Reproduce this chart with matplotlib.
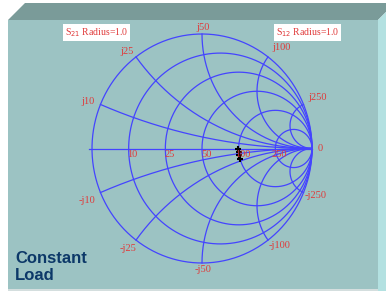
import numpy as np
import matplotlib
matplotlib.use('Agg')
import matplotlib.pyplot as plt
from matplotlib.patches import Polygon

# Smith chart grid values (ohms, Z0 = 50)
z0 = 50.0
resistances = [10, 25, 50, 100, 250]
reactances = [10, 25, 50, 100, 250]
res_labels = ['10', '25', '50', '100', '250']
pos_x_labels = ['j10', 'j25', 'j50', 'j100', 'j250']
neg_x_labels = ['-j10', '-j25', '-j50', '-j100', '-j250']

# measured points (reflection coefficient, real / imag)
gamma_re = [0.33, 0.335, 0.34, 0.345]
gamma_im = [0.0, -0.03, -0.06, -0.09]

grid_col = '#4444ff'
lab_col = '#e03a3a'
# label offsets from arc end points, in pixels
pos_off = [(-13, 3), (-9, 5), (1, 7), (13, 9), (14, 7)]
neg_off = [(-13, -8), (-8, -8), (1, -7), (12, -5), (12, -3)]

fig = plt.figure(figsize=(3.86, 2.91), dpi=100)

# background box (pixel coordinates)
bg = fig.add_axes([0, 0, 1, 1])
bg.set_xlim(0, 386)
bg.set_ylim(291, 0)
bg.axis('off')
bg.add_patch(Polygon([(8, 20), (25, 3), (386, 3), (386, 12), (378, 20)],
                     closed=True, fc='#7a9b99', ec='none'))
bg.add_patch(Polygon([(378, 20), (386, 12), (386, 291), (378, 291)],
                     closed=True, fc='#b3e1e1', ec='none'))
bg.add_patch(Polygon([(8, 20), (378, 20), (378, 289), (8, 289)],
                     closed=True, fc='#9cc3c3', ec='none'))
bg.add_patch(Polygon([(8, 289), (378, 289), (378, 291), (8, 291)],
                     closed=True, fc='#d4dede', ec='none'))

bg.text(96.5, 32.5, 'S$_{21}$ Radius=1.0', color=lab_col, fontsize=7,
        family='Liberation Serif', ha='center', va='center',
        bbox=dict(fc='white', ec='none', pad=1.2))
bg.text(307.5, 32.5, 'S$_{12}$ Radius=1.0', color=lab_col, fontsize=7,
        family='Liberation Serif', ha='center', va='center',
        bbox=dict(fc='white', ec='none', pad=1.2))
bg.text(15, 267, 'Constant\nLoad', color='#0c3868', fontsize=12,
        fontweight='bold', family='Liberation Sans', ha='left', va='center',
        linespacing=1.1)

# smith chart axes: gamma -> pixel  x = 202 + 110*g, y = 148.5 - 114.5*g
ax = fig.add_axes([0, 0, 1, 1])
ax.patch.set_alpha(0)
ax.set_xlim((0 - 202) / 110, (386 - 202) / 110)
ax.set_ylim((148.5 - 291) / 114.5, (148.5 - 0) / 114.5)
ax.axis('off')

t = np.linspace(0, 2 * np.pi, 400)
lw = 0.9

# outer circle and real axis
ax.plot(np.cos(t), np.sin(t), color=grid_col, lw=lw)
ax.plot([-1.03, 1], [0, 0], color=grid_col, lw=lw)

# constant resistance circles
for R, lab in zip(resistances, res_labels):
    r = R / z0
    c = r / (1 + r)
    rad = 1 / (1 + r)
    ax.plot(c + rad * np.cos(t), rad * np.sin(t), color=grid_col, lw=lw)
    ax.annotate(lab, ((r - 1) / (r + 1), 0), xytext=(4, -6),
                textcoords='offset pixels', color=lab_col, fontsize=7.5,
                family='Liberation Serif', ha='center', va='center')

# constant reactance arcs (clipped to unit circle)
for X, lp, ln, po, no in zip(reactances, pos_x_labels, neg_x_labels,
                             pos_off, neg_off):
    x = X / z0
    ex, ey = (x * x - 1) / (x * x + 1), 2 * x / (x * x + 1)
    a0 = np.arctan2(ey - 1 / x, ex - 1) % (2 * np.pi)
    a = np.linspace(a0, 1.5 * np.pi, 200)
    arc_x, arc_y = 1 + np.cos(a) / x, 1 / x + np.sin(a) / x
    ax.plot(arc_x, arc_y, color=grid_col, lw=lw)
    ax.plot(arc_x, -arc_y, color=grid_col, lw=lw)
    ax.annotate(lp, (ex, ey), xytext=po, textcoords='offset pixels',
                color=lab_col, fontsize=7.5, family='Liberation Serif',
                ha='center', va='center')
    ax.annotate(ln, (ex, -ey), xytext=no, textcoords='offset pixels',
                color=lab_col, fontsize=7.5, family='Liberation Serif',
                ha='center', va='center')

ax.annotate('0', (1, 0), xytext=(6, 0), textcoords='offset pixels',
            color=lab_col, fontsize=7.5, family='Liberation Serif',
            ha='left', va='center')

ax.plot(gamma_re, gamma_im, ls='none', marker='+', ms=5, mew=1.5, color='black')

fig.savefig('out.png', dpi=100)
